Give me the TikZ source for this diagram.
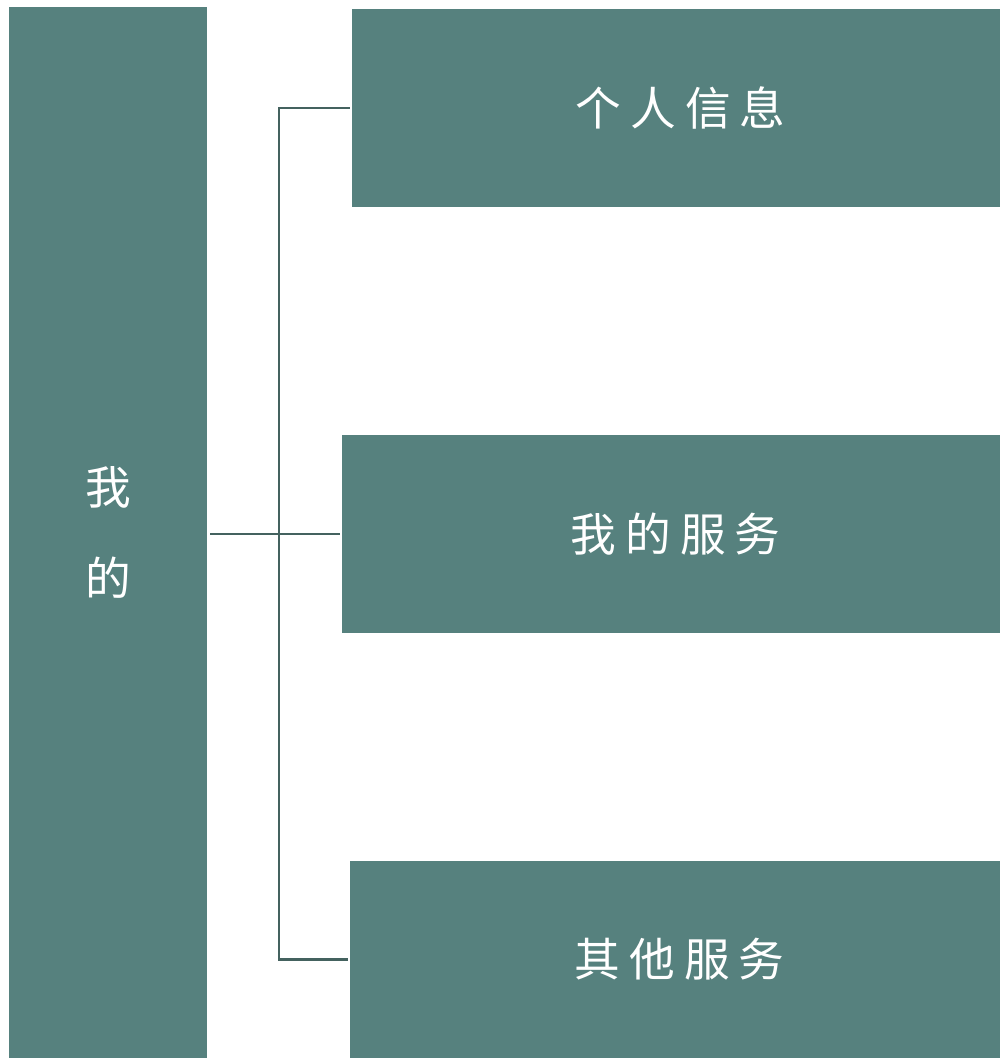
\documentclass[tikz,border=0pt]{standalone}
\usepackage{fontspec}
\newfontfamily\cjk[LetterSpace=20]{Noto Sans CJK SC}
\usetikzlibrary{positioning}
\definecolor{boxteal}{HTML}{56817E}
\definecolor{linkteal}{HTML}{44625F}
\tikzset{
	menubox/.style={fill=boxteal, text=white, inner sep=0pt, font=\cjk\fontsize{26}{52}\selectfont},
	itembox/.style={menubox, minimum height=3.96cm, execute at begin node={\hspace*{0.2em}}},
	link/.style={draw=linkteal, line width=1.6pt},
}

\begin{document}
\begin{tikzpicture}
		%%%%% START %%%%%
		\useasboundingbox (0, 0) rectangle (20, -21.16);
		
		\node[menubox, minimum width=3.96cm, minimum height=21.02cm, align=center] (mine) at (2.16, -10.65) {我\\的};
		
		\node[itembox, minimum width=12.96cm] (info) at (13.52, -2.16) {个人信息};
		\node[itembox, minimum width=13.16cm] (service) at (13.42, -10.68) {我的服务};
		\node[itembox, minimum width=13.0cm, minimum height=3.94cm] (other) at (13.5, -19.19) {其他服务};
		
		\coordinate (hub) at (5.58, -10.68);
		
		\draw[link, shorten <=0.06cm, shorten >=0.04cm] (mine.east |- hub) -- (service.west);
		\draw[link, shorten <=0.04cm, shorten >=0.04cm] (info.west) -| (hub) |- (other.west);
		%%%%% END %%%%%
\end{tikzpicture}
\end{document}
